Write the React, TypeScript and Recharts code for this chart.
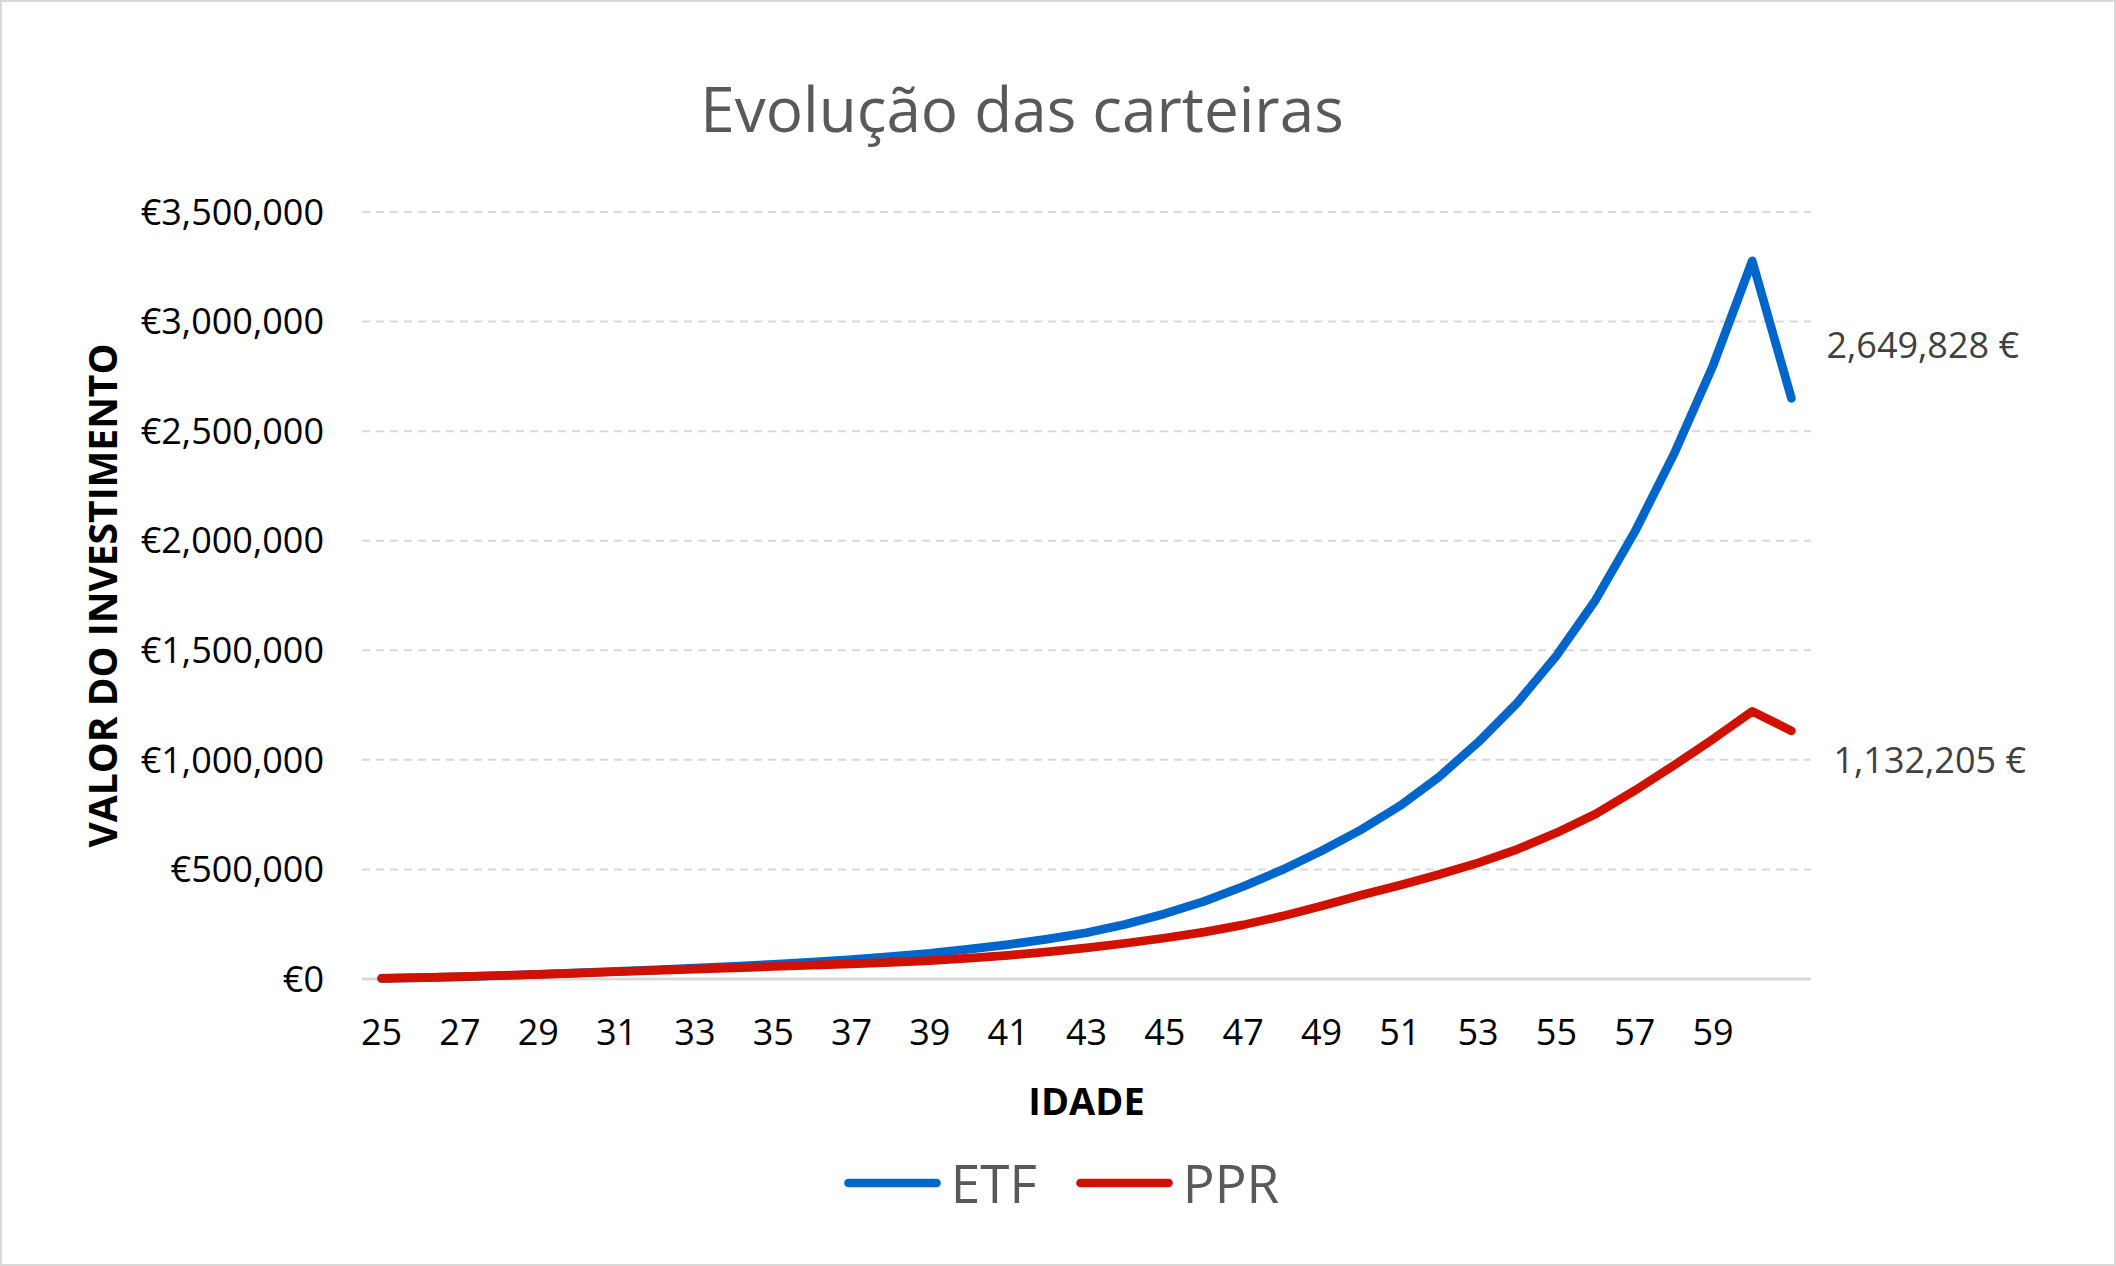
import React from 'react';
import { LineChart, Line, XAxis, YAxis, CartesianGrid, Legend, LabelList } from 'recharts';

const ages = [25, 26, 27, 28, 29, 30, 31, 32, 33, 34, 35, 36, 37, 38, 39, 40, 41, 42, 43, 44, 45, 46, 47, 48, 49, 50, 51, 52, 53, 54, 55, 56, 57, 58, 59, 60, 61];
const etfValues = [2500, 6000, 10000, 15000, 21000, 28000, 35000, 42000, 50000, 58000, 67000, 77000, 88000, 102000, 117000, 136000, 157000, 182000, 211000, 250000, 298000, 354000, 422000, 498000, 585000, 680000, 790000, 922000, 1080000, 1260000, 1475000, 1730000, 2040000, 2395000, 2800000, 3277000, 2649828];
const pprValues = [2500, 6000, 11000, 16000, 21000, 27000, 33000, 39000, 45000, 51000, 57000, 63000, 69000, 76000, 84000, 95000, 108000, 124000, 142000, 163000, 187000, 214000, 247000, 287000, 333000, 382000, 428000, 477000, 530000, 592000, 667000, 753000, 860000, 975000, 1095000, 1221000, 1132205];
const yTicks = [0, 500000, 1000000, 1500000, 2000000, 2500000, 3000000, 3500000];
const hiddenAgeLabels = [61];

const data = ages.map((age, i) => ({ age, ETF: etfValues[i], PPR: pprValues[i] }));

const W = 2116;
const H = 1266;
const FONT = "'Open Sans', 'Noto Sans', sans-serif";
const BLUE = '#0066CC';
const RED = '#D01100';

const fmt = (v: number) => Number(v).toLocaleString('en-US');

const endLabel = (dx: number, dy: number) => (props: any) => {
  if (props.index !== ages.length - 1) return null;
  return (
    <text
      x={Number(props.x) + dx}
      y={Number(props.y) + dy}
      fill="#404040"
      fontSize={36}
      fontFamily={FONT}
      dominantBaseline="central"
      textAnchor="start"
    >
      {fmt(props.value)} €
    </text>
  );
};

const GridLine = (p: any) => {
  const isBase = p.y != null && p.height != null && Math.abs(Number(p.y1) - (Number(p.y) + Number(p.height))) < 1;
  return (
    <line
      key={p.key}
      x1={p.x1}
      y1={p.y1}
      x2={p.x2}
      y2={p.y2}
      stroke="#d9d9d9"
      strokeWidth={isBase ? 3 : 2}
      strokeDasharray={isBase ? undefined : '8 6'}
      fill="none"
    />
  );
};

const YTitle = (props: any) => {
  const vb = props.viewBox || {};
  const cy = vb.y + vb.height / 2;
  const cx = 101;
  return (
    <text
      x={cx}
      y={cy}
      transform={`rotate(-90 ${cx} ${cy})`}
      textAnchor="middle"
      dominantBaseline="central"
      fontSize={39}
      fontWeight="bold"
      fontFamily={FONT}
      fill="#000"
    >
      VALOR DO INVESTIMENTO
    </text>
  );
};

const XTitle = (props: any) => {
  const vb = props.viewBox || {};
  const cx = vb.x + vb.width / 2;
  const cy = vb.y + 121;
  return (
    <text
      x={cx}
      y={cy}
      textAnchor="middle"
      dominantBaseline="central"
      fontSize={38}
      fontWeight="bold"
      fontFamily={FONT}
      fill="#000"
    >
      IDADE
    </text>
  );
};

const LegendContent = (props: any) => {
  const payload = props.payload || [];
  return (
    <div
      style={{
        height: 80,
        display: 'flex',
        justifyContent: 'center',
        alignItems: 'center',
        gap: 39,
        paddingLeft: 7,
        fontFamily: FONT,
      }}
    >
      {payload.map((p: any) => (
        <div key={p.value} style={{ display: 'flex', alignItems: 'center' }}>
          <svg width={97} height={14} style={{ display: 'block' }}>
            <line x1={4.5} y1={7} x2={92.5} y2={7} stroke={p.color} strokeWidth={8.7} strokeLinecap="round" />
          </svg>
          <span style={{ marginLeft: 10, fontSize: 53, color: '#595959', lineHeight: '80px' }}>{p.value}</span>
        </div>
      ))}
    </div>
  );
};

export default function App() {
  return (
    <div style={{ position: 'relative', width: W, height: H, background: '#fff', fontFamily: FONT }}>
      <style>{`body{margin:0;background:#fff;}`}</style>
      <LineChart width={W} height={H} data={data} margin={{ top: 212, right: 305, bottom: 43, left: 0 }}>
        <CartesianGrid vertical={false} horizontal={GridLine} stroke="#d9d9d9" strokeWidth={2} />
        <XAxis
          dataKey="age"
          type="category"
          interval={1}
          padding={{ left: 19.6, right: 19.6 }}
          height={164}
          tickSize={0}
          tickMargin={40}
          tickLine={false}
          axisLine={false}
          tick={{ fill: '#000', fontSize: 36, fontFamily: FONT }}
          tickFormatter={(v: any) => (hiddenAgeLabels.includes(Number(v)) ? '' : String(v))}
          label={{ content: XTitle }}
        />
        <YAxis
          width={362}
          domain={[0, 3500000]}
          ticks={yTicks}
          tickFormatter={(v: any) => '€' + fmt(v)}
          axisLine={false}
          tickLine={false}
          tickSize={0}
          tickMargin={38}
          tick={{ fill: '#000', fontSize: 36, fontFamily: FONT }}
          label={{ content: YTitle }}
        />
        <Legend
          verticalAlign="bottom"
          width={W}
          wrapperStyle={{ left: 0, width: W }}
          content={LegendContent}
        />
        <Line
          type="linear"
          dataKey="ETF"
          name="ETF"
          stroke={BLUE}
          strokeWidth={8.7}
          strokeLinecap="round"
          strokeLinejoin="round"
          dot={false}
          activeDot={false}
          isAnimationActive={false}
        >
          <LabelList dataKey="ETF" content={endLabel(35, -54)} />
        </Line>
        <Line
          type="linear"
          dataKey="PPR"
          name="PPR"
          stroke={RED}
          strokeWidth={8.7}
          strokeLinecap="round"
          strokeLinejoin="round"
          dot={false}
          activeDot={false}
          isAnimationActive={false}
        >
          <LabelList dataKey="PPR" content={endLabel(42, 29)} />
        </Line>
      </LineChart>
      <svg width={W} height={H} style={{ position: 'absolute', left: 0, top: 0, pointerEvents: 'none' }}>
        <text x={1022} y={132} textAnchor="middle" fontSize={62} fill="#595959" fontFamily={FONT}>
          Evolução das carteiras
        </text>
      </svg>
      <div
        style={{
          position: 'absolute',
          left: 0,
          top: 0,
          width: W,
          height: H,
          border: '2px solid #d9d9d9',
          boxSizing: 'border-box',
          pointerEvents: 'none',
        }}
      />
    </div>
  );
}
